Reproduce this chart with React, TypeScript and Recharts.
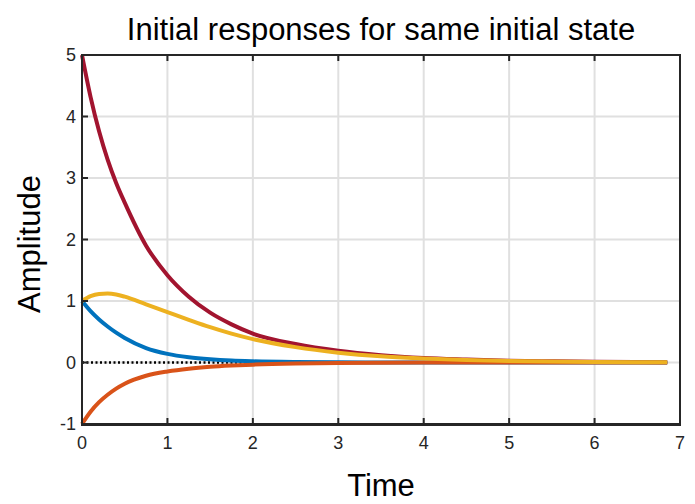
import { LineChart, Line, XAxis, YAxis, ReferenceLine } from "recharts";

// time samples (s)
const TIME = [0, 0.1, 0.2, 0.3, 0.4, 0.5, 0.75, 1, 1.25, 1.5, 1.75, 2, 2.5, 3, 3.5, 4, 4.5, 5, 5.5, 6, 6.5, 6.85];

const BLUE = [1, 0.835, 0.7, 0.585, 0.485, 0.4, 0.235, 0.14, 0.085, 0.052, 0.031, 0.019, 0.007, 0.0025, 0.001, 0, 0, 0, 0, 0, 0, 0];
const ORANGE = [-1, -0.8, -0.645, -0.525, -0.425, -0.345, -0.215, -0.145, -0.1, -0.07, -0.05, -0.035, -0.017, -0.008, -0.004, -0.002, -0.001, 0, 0, 0, 0, 0];
const YELLOW = [1, 1.08, 1.115, 1.12, 1.105, 1.07, 0.945, 0.82, 0.695, 0.575, 0.47, 0.38, 0.25, 0.16, 0.1, 0.065, 0.04, 0.025, 0.016, 0.01, 0.006, 0.004];
const RED = [5, 4.32, 3.76, 3.3, 2.92, 2.6, 1.9, 1.42, 1.07, 0.81, 0.62, 0.47, 0.3, 0.19, 0.12, 0.075, 0.05, 0.03, 0.02, 0.012, 0.008, 0.006];

const X_TICKS = [0, 1, 2, 3, 4, 5, 6, 7];
const Y_TICKS = [-1, 0, 1, 2, 3, 4, 5];
const X_MIN = 0, X_MAX = 7, Y_MIN = -1, Y_MAX = 5;

const data = TIME.map((t, i) => ({ t, blue: BLUE[i], orange: ORANGE[i], yellow: YELLOW[i], red: RED[i] }));

const AX = "#262626";
const GRID = "#e0e0e0";
const FONT = '"Liberation Sans", Arial, sans-serif';
const axisLine = { stroke: AX, strokeWidth: 2 };

// ticks drawn by hand so they point inward like MATLAB's
const BottomTick = ({ x, y, payload }: any) => (
  <g>
    <line x1={x} x2={x} y1={y - 12} y2={y - 18} stroke={AX} strokeWidth={2} />
    <text x={x} y={y} dy="0.71em" textAnchor="middle" fill={AX} fontSize={18} fontFamily={FONT}>{payload.value}</text>
  </g>
);
const LeftTick = ({ x, y, payload }: any) => (
  <g>
    <line x1={x + 6} x2={x + 12} y1={y} y2={y} stroke={AX} strokeWidth={2} />
    <text x={x} y={y} dy="0.35em" textAnchor="end" fill={AX} fontSize={18} fontFamily={FONT}>{payload.value}</text>
  </g>
);
const TopTick = ({ x, y }: any) => <line x1={x} x2={x} y1={y} y2={y + 6} stroke={AX} strokeWidth={2} />;
const RightTick = ({ x, y }: any) => <line x1={x} x2={x - 6} y1={y} y2={y} stroke={AX} strokeWidth={2} />;

const App = () => {
  return (
    <div style={{ position: "absolute", left: 0, top: 0, width: 695, height: 504, background: "#fff", fontFamily: FONT }}>
      <LineChart width={695} height={504} data={data} margin={{ top: 50, right: 10, bottom: 50, left: 52 }}>
        {X_TICKS.slice(1, -1).map((v) => (
          <ReferenceLine key={"gx" + v} x={v} stroke={GRID} strokeWidth={2} />
        ))}
        {Y_TICKS.slice(1, -1).map((v) => (
          <ReferenceLine key={"gy" + v} y={v} stroke={GRID} strokeWidth={2} />
        ))}
        <ReferenceLine segment={[{ x: 0, y: 0 }, { x: 6.85, y: 0 }]} stroke="#000" strokeWidth={2.5} strokeDasharray="2 2.5" />
        <XAxis dataKey="t" type="number" domain={[X_MIN, X_MAX]} ticks={X_TICKS} height={30}
          axisLine={axisLine} tickLine={false} tickSize={0} tickMargin={12} tick={<BottomTick />} />
        <XAxis xAxisId="top" orientation="top" dataKey="t" type="number" domain={[X_MIN, X_MAX]} ticks={X_TICKS} height={5}
          axisLine={axisLine} tickLine={false} tickSize={0} tickMargin={0} tick={<TopTick />} />
        <YAxis type="number" domain={[Y_MIN, Y_MAX]} ticks={Y_TICKS} width={30}
          axisLine={axisLine} tickLine={false} tickSize={0} tickMargin={6} tick={<LeftTick />} />
        <YAxis yAxisId="right" orientation="right" type="number" domain={[Y_MIN, Y_MAX]} ticks={Y_TICKS} width={5}
          axisLine={axisLine} tickLine={false} tickSize={0} tickMargin={0} tick={<RightTick />} />
        <Line type="monotone" dataKey="red" stroke="#A2142F" strokeWidth={4} dot={false} isAnimationActive={false} />
        <Line type="monotone" dataKey="blue" stroke="#0072BD" strokeWidth={4} dot={false} isAnimationActive={false} />
        <Line type="monotone" dataKey="orange" stroke="#D95319" strokeWidth={4} dot={false} isAnimationActive={false} />
        <Line type="monotone" dataKey="yellow" stroke="#EDB120" strokeWidth={4} dot={false} isAnimationActive={false} />
      </LineChart>
      {/* axes frame */}
      <div style={{ position: "absolute", left: 81, top: 54, width: 600, height: 372, boxSizing: "border-box", border: `2px solid ${AX}`, pointerEvents: "none" }} />
      <div style={{ position: "absolute", left: 0, width: 762, top: 12, textAlign: "center", fontSize: 31, color: "#000", lineHeight: "36px" }}>
        Initial responses for same initial state
      </div>
      <div style={{ position: "absolute", left: 0, width: 762, top: 470, textAlign: "center", fontSize: 31, color: "#000", lineHeight: "32px" }}>
        Time
      </div>
      <div style={{ position: "absolute", left: 30, top: 244, width: 0, height: 0 }}>
        <div style={{ position: "absolute", left: -100, top: -18, width: 200, textAlign: "center", fontSize: 31, color: "#000", lineHeight: "36px", transform: "rotate(-90deg)" }}>
          Amplitude
        </div>
      </div>
    </div>
  );
};

export default App;
